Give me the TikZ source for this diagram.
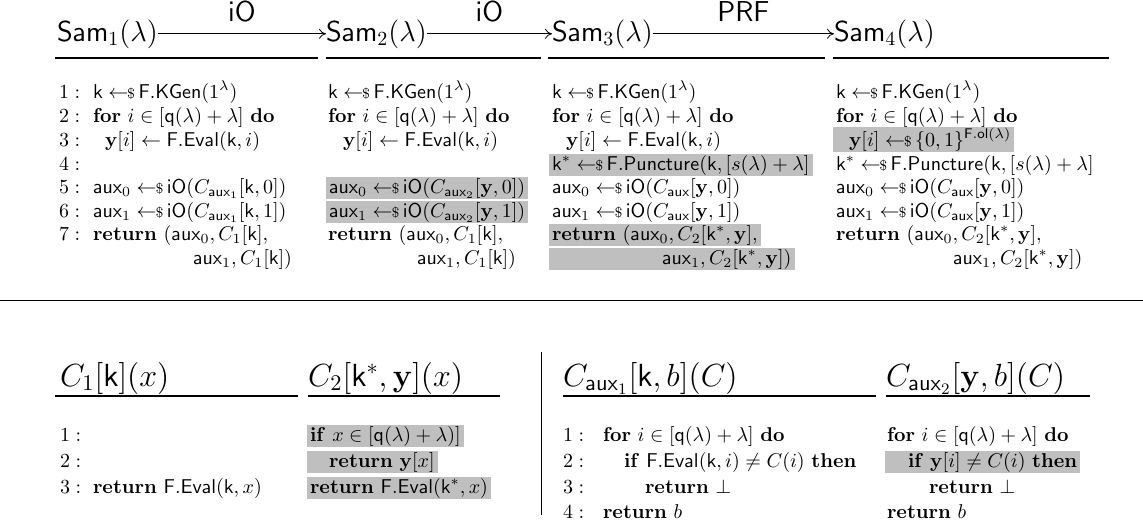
\RequirePackage{fix-cm}
\documentclass[tikz,border=0pt]{standalone}
\usepackage{amsmath,amssymb}
\usetikzlibrary{arrows.meta}
\definecolor{hlgray}{gray}{0.75}
\newcommand{\smp}{\leftarrow\!\!\mbox{\scriptsize\$}\,}
\newcommand{\kw}[1]{\mathbf{#1}}
\newcommand{\sff}[1]{\mathsf{#1}}
\begin{document}
\begin{tikzpicture}[x=0.5pt,y=-0.5pt,
 font=\fontsize{10}{12}\selectfont,
 txt/.style={anchor=base west,inner sep=0pt,outer sep=0pt},
 hl/.style={anchor=base west,inner xsep=1.5pt,inner ysep=0.5pt,outer sep=0pt,fill=hlgray},
 hdr/.style={anchor=base west,inner sep=0pt,outer sep=0pt,font=\fontsize{14.4}{17}\selectfont},
 bhdr/.style={anchor=base west,inner sep=0pt,outer sep=0pt,font=\fontsize{16}{19}\selectfont},
 lbl/.style={inner sep=0pt,font=\fontsize{14.4}{16}\selectfont},
 uline/.style={line width=0.8pt},
 sepline/.style={line width=0.5pt},
 gamearrow/.style={-{To[length=3.5pt,width=5pt]}, line width=0.4pt}]
\useasboundingbox (0,0) rectangle (1143,520);

% ---------- header ----------
\node[hdr] (S1) at (57,41) {$\sff{Sam}_1(\lambda)$};
\node[hdr] (S2) at (326,41) {$\sff{Sam}_2(\lambda)$};
\node[hdr] (S3) at (552,41) {$\sff{Sam}_3(\lambda)$};
\node[hdr] (S4) at (834,41) {$\sff{Sam}_4(\lambda)$};
\draw[gamearrow] (S1.east) -- node[lbl,above=6pt] (L1) {$\sff{iO}$} (S2.west);
\draw[gamearrow] (S2.east) -- node[lbl,above=6pt] (L2) {$\sff{iO}$} (S3.west);
\draw[gamearrow] (S3.east) -- node[lbl,above=6pt] (L3) {$\sff{PRF}$} (S4.west);
\coordinate (U1a) at (55,58);  \coordinate (U1b) at (318,58);
\coordinate (U2a) at (326,58); \coordinate (U2b) at (541,58);
\coordinate (U3a) at (548,58); \coordinate (U3b) at (825,58);
\coordinate (U4a) at (833,58); \coordinate (U4b) at (1109,58);
\draw[uline] (U1a) -- (U1b);
\draw[uline] (U2a) -- (U2b);
\draw[uline] (U3a) -- (U3b);
\draw[uline] (U4a) -- (U4b);

% ---------- line numbers ----------
\node[txt] (n1) at (59,98) {$1:$};
\node[txt] (n2) at (59,122) {$2:$};
\node[txt] (n3) at (59,146) {$3:$};
\node[txt] (n4) at (59,170) {$4:$};
\node[txt] (n5) at (59,193) {$5:$};
\node[txt] (n6) at (59,217) {$6:$};
\node[txt] (n7) at (59,240) {$7:$};

% ---------- column 1 ----------
\node[txt] (a1) at (93,98) {$\sff{k} \smp \sff{F.KGen}(1^\lambda)$};
\node[txt] (a2) at (93,122) {$\kw{for}\ i \in [\sff{q}(\lambda)+\lambda]\ \kw{do}$};
\node[txt] (a3) at (105,146) {$\mathbf{y}[i] \gets \sff{F.Eval}(\sff{k}, i)$};
\node[txt] (a5) at (93,193) {$\sff{aux}_0 \smp \sff{iO}(C_{\sff{aux}_1}[\sff{k},0])$};
\node[txt] (a6) at (93,217) {$\sff{aux}_1 \smp \sff{iO}(C_{\sff{aux}_1}[\sff{k},1])$};
\node[txt] (a7) at (93,240) {$\kw{return}\ (\sff{aux}_0, C_1[\sff{k}],$};
\node[txt] (a8) at (193,264) {$\sff{aux}_1, C_1[\sff{k}])$};

% ---------- column 2 ----------
\node[txt] (b1) at (328,98) {$\sff{k} \smp \sff{F.KGen}(1^\lambda)$};
\node[txt] (b2) at (328,122) {$\kw{for}\ i \in [\sff{q}(\lambda)+\lambda]\ \kw{do}$};
\node[txt] (b3) at (343,146) {$\mathbf{y}[i] \gets \sff{F.Eval}(\sff{k}, i)$};
\node[hl] (b5) at (326,193) {$\sff{aux}_0 \smp \sff{iO}(C_{\sff{aux}_2}[\mathbf{y},0])$};
\node[hl] (b6) at (326,217) {$\sff{aux}_1 \smp \sff{iO}(C_{\sff{aux}_2}[\mathbf{y},1])$};
\node[txt] (b7) at (328,240) {$\kw{return}\ (\sff{aux}_0, C_1[\sff{k}],$};
\node[txt] (b8) at (417,264) {$\sff{aux}_1, C_1[\sff{k}])$};

% ---------- column 3 ----------
\node[txt] (c1) at (552,98) {$\sff{k} \smp \sff{F.KGen}(1^\lambda)$};
\node[txt] (c2) at (552,122) {$\kw{for}\ i \in [\sff{q}(\lambda)+\lambda]\ \kw{do}$};
\node[txt] (c3) at (566,146) {$\mathbf{y}[i] \gets \sff{F.Eval}(\sff{k}, i)$};
\node[hl] (c4) at (549,170) {$\sff{k}^* \smp \sff{F.Puncture}(\sff{k}, [s(\lambda)+\lambda]$};
\node[txt] (c5) at (552,193) {$\sff{aux}_0 \smp \sff{iO}(C_{\sff{aux}}[\mathbf{y},0])$};
\node[txt] (c6) at (552,217) {$\sff{aux}_1 \smp \sff{iO}(C_{\sff{aux}}[\mathbf{y},1])$};
\node[hl] (c7) at (549,240) {$\kw{return}\ (\sff{aux}_0, C_2[\sff{k}^*,\mathbf{y}],$};
\node[hl] (c8) at (549,264) {\hspace{55pt}$\sff{aux}_1, C_2[\sff{k}^*,\mathbf{y}])$};

% ---------- column 4 ----------
\node[txt] (d1) at (836,98) {$\sff{k} \smp \sff{F.KGen}(1^\lambda)$};
\node[txt] (d2) at (836,122) {$\kw{for}\ i \in [\sff{q}(\lambda)+\lambda]\ \kw{do}$};
\node[hl] (d3) at (833,146) {\hspace{6.5pt}$\mathbf{y}[i] \smp \{0,1\}^{\sff{F.ol}(\lambda)}$};
\node[txt] (d4) at (836,170) {$\sff{k}^* \smp \sff{F.Puncture}(\sff{k}, [s(\lambda)+\lambda]$};
\node[txt] (d5) at (836,193) {$\sff{aux}_0 \smp \sff{iO}(C_{\sff{aux}}[\mathbf{y},0])$};
\node[txt] (d6) at (836,217) {$\sff{aux}_1 \smp \sff{iO}(C_{\sff{aux}}[\mathbf{y},1])$};
\node[txt] (d7) at (836,240) {$\kw{return}\ (\sff{aux}_0, C_2[\sff{k}^*,\mathbf{y}],$};
\node[txt] (d8) at (953,264) {$\sff{aux}_1, C_2[\sff{k}^*,\mathbf{y}])$};

% ---------- separators ----------
\coordinate (H1) at (0,300); \coordinate (H2) at (1143,300);
\draw[sepline] (H1) -- (H2);
\coordinate (V1) at (541,352); \coordinate (V2) at (541,515);
\draw[sepline] (V1) -- (V2);

% ---------- bottom left ----------
\node[bhdr] (P1) at (60,386) {$C_1[\sff{k}](x)$};
\node[bhdr] (P2) at (308,386) {$C_2[\sff{k}^*,\mathbf{y}](x)$};
\coordinate (W1a) at (55,396);  \coordinate (W1b) at (298,396);
\coordinate (W2a) at (308,396); \coordinate (W2b) at (500,396);
\draw[uline] (W1a) -- (W1b);
\draw[uline] (W2a) -- (W2b);
\node[txt] (m1) at (60,441) {$1:$};
\node[txt] (m2) at (60,467) {$2:$};
\node[txt] (m3) at (60,493) {$3:$};
\node[txt] (e3) at (93,493) {$\kw{return}\ \sff{F.Eval}(\sff{k},x)$};
\node[hl] (f1) at (307,441) {$\kw{if}\ x \in [\sff{q}(\lambda)+\lambda)]$};
\node[hl] (f2) at (307,467) {\hspace{9.5pt}$\kw{return}\ \mathbf{y}[x]$};
\node[hl] (f3) at (307,493) {$\kw{return}\ \sff{F.Eval}(\sff{k}^*,x)$};

% ---------- bottom right ----------
\node[bhdr] (Q1) at (563,386) {$C_{\sff{aux}_1}[\sff{k},b](C)$};
\node[bhdr] (Q2) at (886,386) {$C_{\sff{aux}_2}[\mathbf{y},b](C)$};
\coordinate (X1a) at (563,396); \coordinate (X1b) at (876,396);
\coordinate (X2a) at (886,396); \coordinate (X2b) at (1090,396);
\draw[uline] (X1a) -- (X1b);
\draw[uline] (X2a) -- (X2b);
\node[txt] (k1) at (563,441) {$1:$};
\node[txt] (k2) at (563,467) {$2:$};
\node[txt] (k3) at (563,493) {$3:$};
\node[txt] (k4) at (563,518) {$4:$};
\node[txt] (g1) at (603,441) {$\kw{for}\ i \in [\sff{q}(\lambda)+\lambda]\ \kw{do}$};
\node[txt] (g2) at (624,467) {$\kw{if}\ \sff{F.Eval}(\sff{k},i) \neq C(i)\ \kw{then}$};
\node[txt] (g3) at (645,493) {$\kw{return}\ \bot$};
\node[txt] (g4) at (603,518) {$\kw{return}\ b$};
\node[txt] (h1) at (887,441) {$\kw{for}\ i \in [\sff{q}(\lambda)+\lambda]\ \kw{do}$};
\node[hl] (h2) at (885,467) {\hspace{10pt}$\kw{if}\ \mathbf{y}[i] \neq C(i)\ \kw{then}$};
\node[txt] (h3) at (929,493) {$\kw{return}\ \bot$};
\node[txt] (h4) at (887,518) {$\kw{return}\ b$};
\end{tikzpicture}
\end{document}
